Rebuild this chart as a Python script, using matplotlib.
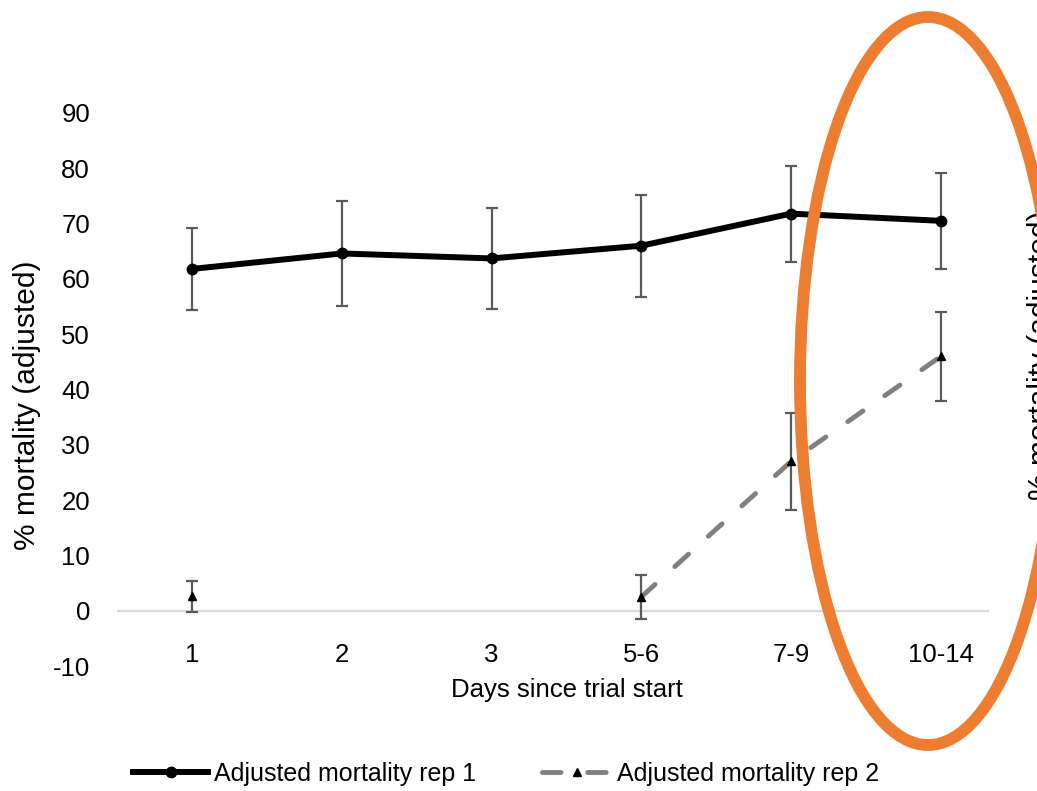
import numpy as np
import matplotlib
matplotlib.use('Agg')
import matplotlib.pyplot as plt
from matplotlib.patches import Ellipse
from matplotlib.lines import Line2D
from matplotlib import font_manager

# ---- data ----
categories = ['1', '2', '3', '5-6', '7-9', '10-14']
rep1 = [61.8, 64.6, 63.7, 66.0, 71.8, 70.5]
rep1_err = [7.4, 9.5, 9.2, 9.2, 8.7, 8.7]
rep2 = [2.6, np.nan, np.nan, 2.5, 27.0, 46.0]
rep2_err = [2.8, np.nan, np.nan, 4.0, 8.8, 8.0]
yticks = list(range(-10, 100, 10))
series_names = ['Adjusted mortality rep 1', 'Adjusted mortality rep 2']
x_title = 'Days since trial start'
y_title = '% mortality (adjusted)'

plt.rcParams['font.family'] = ['Liberation Sans', 'DejaVu Sans']

W, H = 1037, 791
fig = plt.figure(figsize=(W / 100, H / 100), dpi=100)
fig.patch.set_facecolor('white')


def fx(px):
    return px / W


def fy(py):
    return 1 - py / H


ax_left, ax_right, ax_top, ax_bottom = 117, 989, 113, 666
ax = fig.add_axes([fx(ax_left), fy(ax_bottom), (ax_right - ax_left) / W, (ax_bottom - ax_top) / H])
x = np.arange(len(categories))
step = 149.8
ax.set_xlim(-0.5, -0.5 + (ax_right - ax_left) / step)
ax.set_ylim(-10, 90)
for s in ax.spines.values():
    s.set_visible(False)
ax.axhline(0, color='#d9d9d9', lw=1.6, zorder=1)

ax.set_xticks(x)
ax.set_xticklabels(categories)
ax.set_yticks(yticks)
ax.set_yticklabels([str(v) for v in yticks])
ax.tick_params(axis='y', length=0, pad=19.4, labelsize=18.5, labelcolor='black')
ax.tick_params(axis='x', length=0, pad=-16.8, labelsize=18.5, labelcolor='black')

err_color = '#5a5a5a'
ax.errorbar(x, rep1, yerr=rep1_err, fmt='none', ecolor=err_color, elinewidth=1.6,
            capsize=4.3, capthick=1.6, zorder=2)
ax.errorbar(x, rep2, yerr=rep2_err, fmt='none', ecolor=err_color, elinewidth=1.6,
            capsize=4.3, capthick=1.6, zorder=2)

ax.plot(x, rep1, color='black', lw=4.3, marker='o', ms=7.5, zorder=4,
        solid_capstyle='round', solid_joinstyle='round')
ax.plot(x, rep2, color='#808080', lw=3.5, ls=(0, (3.8, 5.5)), dash_capstyle='round', zorder=3)
ax.plot(x, rep2, ls='none', marker='^', ms=5.5, mfc='black', mec='black', zorder=5)

# axis titles
fig.text(fx(566.5), fy(690), x_title, ha='center', va='center', fontsize=18.5, color='black')
fig.text(fx(27), fy(405), y_title, rotation=90, ha='center', va='center', fontsize=21.5, color='black')
# partially visible neighbouring chart's axis title
fig.text(fx(1027), fy(355), y_title, rotation=90, ha='left', va='center', fontsize=21.5, color='black')

# legend
names = {f.name for f in font_manager.fontManager.ttflist}
if 'Liberation Sans Narrow' in names:
    leg_family, leg_size = 'Liberation Sans Narrow', 21
else:
    leg_family, leg_size = 'Liberation Sans', 18
em = leg_size * 100 / 72
h1 = Line2D([], [], color='black', lw=4.3, marker='o', ms=7.5)
h2 = Line2D([], [], color='#808080', lw=3.5, ls=(0, (3.8, 5.5)), dash_capstyle='round',
            marker='^', ms=5.5, mfc='black', mec='black')
for h, lab, xs, hl in [(h1, series_names[0], 133, 75), (h2, series_names[1], 542, 69)]:
    fig.legend(handles=[h], labels=[lab], loc='center left', bbox_to_anchor=(fx(xs), fy(774)),
               frameon=False, borderpad=0, borderaxespad=0, handlelength=hl / em,
               handletextpad=6 / em, prop={'family': leg_family, 'size': leg_size})

# orange highlight ellipse
fig.add_artist(Ellipse((fx(928), fy(381)), width=256 / W, height=728 / H, transform=fig.transFigure,
                       fill=False, edgecolor='#ED7D31', lw=8.5, zorder=10))

fig.savefig('out.png', dpi=100)
